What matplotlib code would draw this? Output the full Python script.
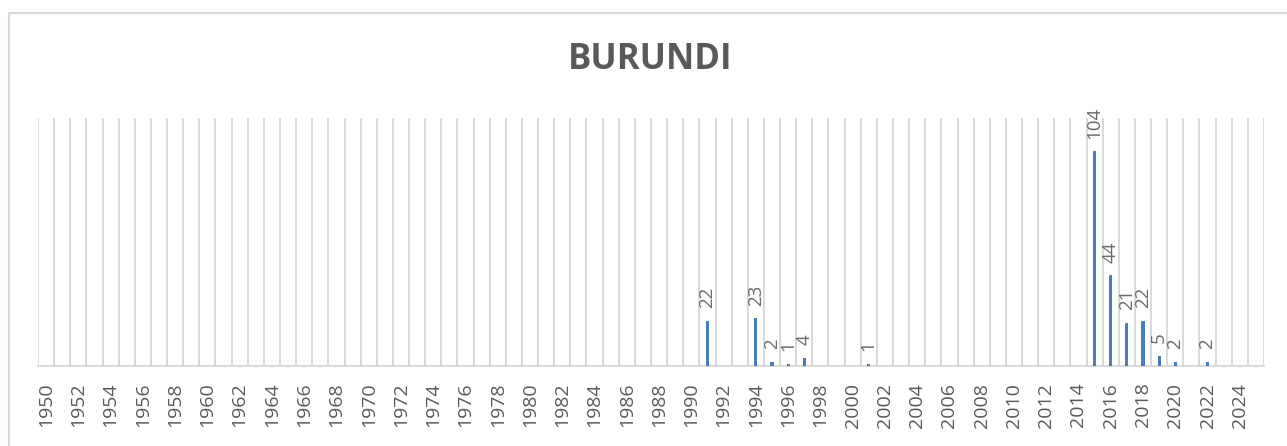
import matplotlib
matplotlib.use("Agg")
import matplotlib.pyplot as plt
from matplotlib.patches import Rectangle

years = list(range(1950, 2026))
event_years = [1991, 1994, 1995, 1996, 1997, 2001, 2015, 2016, 2017, 2018, 2019, 2020, 2022]
event_values = [22, 23, 2, 1, 4, 1, 104, 44, 21, 22, 5, 2, 2]
tick_years = list(range(1950, 2025, 2))
title = "BURUNDI"

W, H = 1287, 446
fig = plt.figure(figsize=(W / 100, H / 100), dpi=100)
fig.patch.set_facecolor("white")

ax = fig.add_axes([38 / W, 80 / H, (1264 - 38) / W, (366 - 118) / H])
ax.set_xlim(years[0] - 0.5, years[-1] + 0.5)
ax.set_ylim(0, 120)

for b in range(years[0], years[-1] + 2):
    ax.axvline(b - 0.5, color="#d9d9d9", lw=1.4, zorder=0)

ax.bar(event_years, event_values, width=0.2, color="#4a7ebb", zorder=3)
for x, v in zip(event_years, event_values):
    ax.annotate(str(v), (x, v), xytext=(0, 9), textcoords="offset points",
                rotation=90, ha="center", va="bottom", color="#6b6b6b",
                fontsize=13.5, family="Open Sans")

for s in ["top", "left", "right"]:
    ax.spines[s].set_visible(False)
ax.spines["bottom"].set_color("#d9d9d9")
ax.spines["bottom"].set_linewidth(1.4)
ax.set_yticks([])
ax.set_xticks(tick_years)
ax.set_xticklabels([str(y) for y in tick_years], rotation=90, color="#595959",
                   fontsize=14, family="Open Sans")
ax.tick_params(axis="x", length=0, pad=12)

fig.text(650 / W, 1 - 60 / H, title, ha="center", va="center", fontsize=25,
         fontweight="bold", color="#595959", family="Open Sans")

fig.patches.append(Rectangle((9 / W, -0.1), 1.2, 1 - 13 / H + 0.1,
                             transform=fig.transFigure, fill=False,
                             edgecolor="#d9d9d9", lw=1.5))

fig.savefig("out.png", dpi=100)
